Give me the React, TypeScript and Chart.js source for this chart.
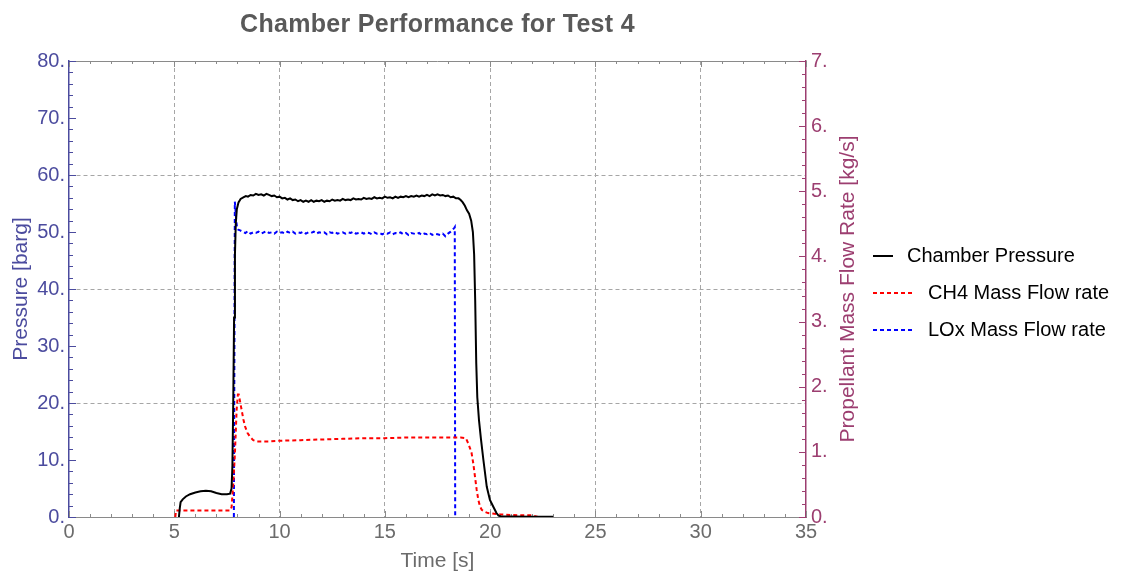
import React, { useEffect, useRef } from "react";
import { Chart, registerables } from "chart.js";
Chart.register(...registerables);

const FONT = '"Liberation Sans", Arial, Helvetica, sans-serif';

const chartTitle = "Chamber Performance for Test 4";
const xTitle = "Time [s]";
const yTitle = "Pressure [barg]";
const y1Title = "Propellant Mass Flow Rate [kg/s]";
const seriesNames = ["Chamber Pressure", "CH4 Mass Flow rate", "LOx Mass Flow rate"];

const pressureTime = [
  5.22, 5.26, 5.3, 5.4, 5.55, 5.75, 6.0, 6.25, 6.5, 6.75, 7.0, 7.25, 7.5, 7.65, 7.72, 7.76, 7.8, 7.84, 7.88, 7.92, 7.97, 8.05, 8.15, 8.3, 8.4,
  8.5, 8.625, 8.75, 8.875, 9.0, 9.125, 9.25, 9.375, 9.5, 9.625, 9.75, 9.875, 10.0, 10.125, 10.25, 10.375, 10.5, 10.625, 10.75, 10.875,
  11.0, 11.125, 11.25, 11.375, 11.5, 11.625, 11.75, 11.875, 12.0, 12.125, 12.25, 12.375, 12.5, 12.625, 12.75, 12.875,
  13.0, 13.125, 13.25, 13.375, 13.5, 13.625, 13.75, 13.875, 14.0, 14.125, 14.25, 14.375, 14.5, 14.625, 14.75, 14.875,
  15.0, 15.125, 15.25, 15.375, 15.5, 15.625, 15.75, 15.875, 16.0, 16.125, 16.25, 16.375, 16.5, 16.625, 16.75, 16.875,
  17.0, 17.125, 17.25, 17.375, 17.5, 17.625, 17.75, 17.875, 18.0, 18.125, 18.25, 18.375, 18.5,
  18.6, 18.7, 18.8, 18.9, 19.0, 19.1, 19.18, 19.24, 19.29, 19.34, 19.39, 19.47, 19.56, 19.68, 19.84, 19.99, 20.15, 20.3, 20.4, 20.5, 21.0, 22.0, 23.0,
];
const pressureValues = [
  0, 1.5, 2.6, 3.1, 3.6, 4.0, 4.3, 4.5, 4.6, 4.5, 4.2, 4.0, 4.0, 4.1, 5, 9, 20, 35, 46, 51.5, 54, 55.2, 55.8, 56.1, 56.3,
  56.2, 56.5, 56.4, 56.7, 56.5, 56.6, 56.4, 56.7, 56.5, 56.3, 56.4, 56.1, 56.2, 55.9, 56.0, 55.7, 55.9, 55.6, 55.7, 55.4,
  55.6, 55.3, 55.5, 55.3, 55.6, 55.3, 55.5, 55.4, 55.6, 55.3, 55.5, 55.4, 55.7, 55.5, 55.6, 55.5,
  55.8, 55.6, 55.7, 55.6, 55.9, 55.7, 55.8, 55.7, 56.0, 55.8, 55.9, 55.8, 56.1, 55.9, 56.0, 55.9,
  56.2, 56.0, 56.1, 55.9, 56.2, 56.0, 56.2, 56.1, 56.3, 56.1, 56.3, 56.2, 56.4, 56.2, 56.4, 56.3,
  56.5, 56.3, 56.6, 56.4, 56.6, 56.4, 56.5, 56.3, 56.4, 56.1, 56.2, 55.9, 55.9,
  55.6, 55.2, 54.6, 53.8, 53.2, 52.0, 50.0, 46, 38, 27, 21, 17, 13.8, 10.0, 5.3, 3.0, 1.8, 0.7, 0.25, 0.12, 0.08, 0.05, 0.03,
];

const ch4Time = [
  5.05, 5.08, 7.65, 7.72, 7.8, 7.88, 7.96, 8.02, 8.06, 8.12, 8.2, 8.28, 8.36, 8.48, 8.6, 8.75, 8.9, 9.5, 10, 11, 12, 13, 14, 15, 16, 17, 18,
  18.6, 18.85, 18.96, 19.05, 19.12, 19.2, 19.28, 19.36, 19.44, 19.52, 19.6, 19.75, 19.9, 20.5, 21, 22, 22.3,
];
const ch4Values = [
  0, 0.1, 0.1, 0.15, 0.5, 0.98, 1.64, 1.88, 1.88, 1.78, 1.64, 1.5, 1.39, 1.29, 1.23, 1.18, 1.16, 1.16, 1.17, 1.18, 1.19, 1.2, 1.21, 1.21, 1.22, 1.22, 1.22,
  1.22, 1.21, 1.13, 1.05, 0.98, 0.82, 0.62, 0.42, 0.26, 0.16, 0.11, 0.08, 0.06, 0.04, 0.03, 0.025, 0,
];

const loxTime = [
  7.83, 7.855, 7.875, 7.9, 7.94, 7.98, 8.04,
  8.125, 8.25, 8.375, 8.5, 8.625, 8.75, 8.875, 9.0, 9.125, 9.25, 9.375, 9.5, 9.625, 9.75, 9.875,
  10.0, 10.125, 10.25, 10.375, 10.5, 10.625, 10.75, 10.875, 11.0, 11.125, 11.25, 11.375, 11.5, 11.625, 11.75, 11.875,
  12.0, 12.125, 12.25, 12.375, 12.5, 12.625, 12.75, 12.875, 13.0, 13.125, 13.25, 13.375, 13.5, 13.625, 13.75, 13.875,
  14.0, 14.125, 14.25, 14.375, 14.5, 14.625, 14.75, 14.875, 15.0, 15.125, 15.25, 15.375, 15.5, 15.625, 15.75, 15.875,
  16.0, 16.125, 16.25, 16.375, 16.5, 16.625, 16.75, 16.875, 17.0, 17.125, 17.25, 17.375, 17.5, 17.625, 17.75, 17.875,
  18.0, 18.125, 18.25, 18.3, 18.32, 18.34,
];
const loxValues = [
  0, 2.5, 4.84, 4.75, 4.55, 4.45, 4.41,
  4.40, 4.38, 4.36, 4.39, 4.35, 4.37, 4.36, 4.38, 4.35, 4.37, 4.39, 4.36, 4.37, 4.35, 4.38,
  4.36, 4.37, 4.35, 4.38, 4.36, 4.38, 4.35, 4.37, 4.36, 4.38, 4.35, 4.37, 4.36, 4.38, 4.35, 4.37,
  4.36, 4.37, 4.34, 4.37, 4.36, 4.38, 4.35, 4.36, 4.37, 4.35, 4.37, 4.36, 4.38, 4.35, 4.36, 4.37,
  4.35, 4.37, 4.36, 4.34, 4.37, 4.35, 4.36, 4.34, 4.36, 4.35, 4.37, 4.34, 4.36, 4.35, 4.37, 4.34,
  4.36, 4.33, 4.36, 4.35, 4.34, 4.36, 4.33, 4.35, 4.34, 4.36, 4.33, 4.35, 4.34, 4.33, 4.35, 4.31,
  4.35, 4.38, 4.42, 4.44, 4.45, 0,
];

const xRange = [0, 35];
const yRange = [0, 80];
const y1Range = [0, 7];

const LEFT_COLOR = "#4b4b9e";
const RIGHT_COLOR = "#9c3e70";
const GREY_AXIS = "#8a8a8a";
const GRID = "#a6a6a6";

const toPoints = (t: number[], v: number[]) => t.map((x, i) => ({ x, y: v[i] }));

const decorPlugin = {
  id: "decor",
  beforeDatasetsDraw(chart: any) {
    const { ctx, chartArea: a, scales } = chart;
    const sx = scales.x, sy = scales.y, sy1 = scales.y1;
    ctx.save();
    ctx.strokeStyle = GREY_AXIS;
    ctx.lineWidth = 1;
    ctx.beginPath();
    ctx.moveTo(a.left, Math.round(a.top) + 0.5);
    ctx.lineTo(a.right, Math.round(a.top) + 0.5);
    ctx.stroke();
    for (let t = xRange[0]; t <= xRange[1]; t += 1) {
      const px = Math.round(sx.getPixelForValue(t)) + 0.5;
      const len = t % 5 === 0 ? 6 : 3;
      ctx.beginPath();
      ctx.moveTo(px, a.bottom);
      ctx.lineTo(px, a.bottom - len);
      ctx.moveTo(px, a.top);
      ctx.lineTo(px, a.top + len);
      ctx.stroke();
    }
    ctx.strokeStyle = LEFT_COLOR;
    for (let v = yRange[0]; v <= yRange[1]; v += 2) {
      const py = Math.round(sy.getPixelForValue(v)) + 0.5;
      const len = v % 10 === 0 ? 7 : 4;
      ctx.beginPath();
      ctx.moveTo(a.left, py);
      ctx.lineTo(a.left + len, py);
      ctx.stroke();
    }
    ctx.strokeStyle = RIGHT_COLOR;
    for (let i = 0; i <= 35; i++) {
      const v = i / 5;
      const py = Math.round(sy1.getPixelForValue(v)) + 0.5;
      const len = i % 5 === 0 ? 7 : 4;
      ctx.beginPath();
      ctx.moveTo(a.right, py);
      ctx.lineTo(a.right - len, py);
      ctx.stroke();
    }
    ctx.restore();
  },
  afterDraw(chart: any) {
    const { ctx, chartArea: a } = chart;
    ctx.save();
    ctx.fillStyle = "#595959";
    ctx.font = `bold 25px ${FONT}`;
    try { (ctx as any).letterSpacing = "0.3px"; } catch (e) {}
    ctx.textAlign = "center";
    ctx.textBaseline = "middle";
    ctx.fillText(chartTitle, (a.left + a.right) / 2, 25);
    try { (ctx as any).letterSpacing = "0px"; } catch (e) {}
    ctx.save();
    ctx.translate(848, (a.top + a.bottom) / 2);
    ctx.rotate(-Math.PI / 2);
    ctx.fillStyle = RIGHT_COLOR;
    ctx.font = `21px ${FONT}`;
    ctx.fillText(y1Title, 0, 0);
    ctx.restore();
    ctx.font = `20px ${FONT}`;
    ctx.textAlign = "left";
    ctx.fillStyle = "#000";
    const items = [
      { color: "#000000", dash: [] as number[], x2: 893, tx: 907, y: 256, w: 2 },
      { color: "#ff0000", dash: [4, 3], x2: 913, tx: 928, y: 293, w: 2 },
      { color: "#0000ff", dash: [4, 3], x2: 913, tx: 928, y: 330, w: 2 },
    ];
    items.forEach((it, i) => {
      ctx.strokeStyle = it.color;
      ctx.lineWidth = it.w;
      ctx.setLineDash(it.dash);
      ctx.beginPath();
      ctx.moveTo(873, it.y);
      ctx.lineTo(it.x2, it.y);
      ctx.stroke();
      ctx.setLineDash([]);
      ctx.fillText(seriesNames[i], it.tx, it.y);
    });
    ctx.restore();
  },
};

export default function App() {
  const ref = useRef<HTMLCanvasElement>(null);
  useEffect(() => {
    if (!ref.current) return;
    Chart.defaults.font.family = FONT;
    const chart = new Chart(ref.current, {
      type: "line",
      data: {
        datasets: [
          {
            label: seriesNames[0],
            data: toPoints(pressureTime, pressureValues),
            borderColor: "#000000",
            borderWidth: 2,
            pointRadius: 0,
            yAxisID: "y",
            tension: 0,
          },
          {
            label: seriesNames[1],
            data: toPoints(ch4Time, ch4Values),
            borderColor: "#ff0000",
            borderWidth: 2,
            borderDash: [4, 3],
            pointRadius: 0,
            yAxisID: "y1",
            tension: 0,
          },
          {
            label: seriesNames[2],
            data: toPoints(loxTime, loxValues),
            borderColor: "#0000ff",
            borderWidth: 2,
            borderDash: [4, 3],
            pointRadius: 0,
            yAxisID: "y1",
            tension: 0,
          },
        ],
      },
      options: {
        responsive: false,
        animation: false,
        layout: { padding: { top: 61, right: 257, bottom: 0, left: 0 } },
        plugins: {
          legend: { display: false },
          title: { display: false },
          tooltip: { enabled: false },
        },
        scales: {
          x: {
            type: "linear",
            min: xRange[0],
            max: xRange[1],
            afterFit: (s: any) => { s.height = 57; },
            ticks: { stepSize: 5, color: "#6b6b6b", font: { size: 20 }, padding: 3, maxRotation: 0 },
            grid: {
              drawTicks: false,
              color: (c: any) => (c.tick && (c.tick.value === 0 || c.tick.value === 35) ? "rgba(0,0,0,0)" : GRID),
              lineWidth: 1,
            },
            border: { display: true, color: GREY_AXIS, width: 1, dash: [4, 3] },
            title: { display: true, text: xTitle, color: "#6b6b6b", font: { size: 21 }, padding: { top: 0, bottom: 0 } },
          },
          y: {
            type: "linear",
            position: "left",
            min: yRange[0],
            max: yRange[1],
            afterFit: (s: any) => { s.width = 69; },
            ticks: { stepSize: 10, color: LEFT_COLOR, font: { size: 20 }, padding: 4, callback: (v: any) => `${v}.` },
            grid: {
              drawTicks: false,
              color: (c: any) => (c.tick && [20, 40, 60].includes(c.tick.value) ? GRID : "rgba(0,0,0,0)"),
              lineWidth: 1,
            },
            border: { display: true, color: LEFT_COLOR, width: 1.5, dash: [4, 3] },
            title: { display: true, text: yTitle, color: LEFT_COLOR, font: { size: 21 }, padding: { top: 9, bottom: 0 } },
          },
          y1: {
            type: "linear",
            position: "right",
            min: y1Range[0],
            max: y1Range[1],
            afterFit: (s: any) => { s.width = 60; },
            ticks: { stepSize: 1, color: RIGHT_COLOR, font: { size: 20 }, padding: 5, callback: (v: any) => `${v}.` },
            grid: { drawTicks: false, drawOnChartArea: false },
            border: { display: true, color: RIGHT_COLOR, width: 1.5 },
          },
        },
      },
      plugins: [decorPlugin],
    } as any);
    return () => chart.destroy();
  }, []);
  return (
    <canvas
      ref={ref}
      width={1123}
      height={574}
      style={{ position: "absolute", left: 0, top: 0, width: 1123, height: 574, background: "#fff" }}
    />
  );
}
